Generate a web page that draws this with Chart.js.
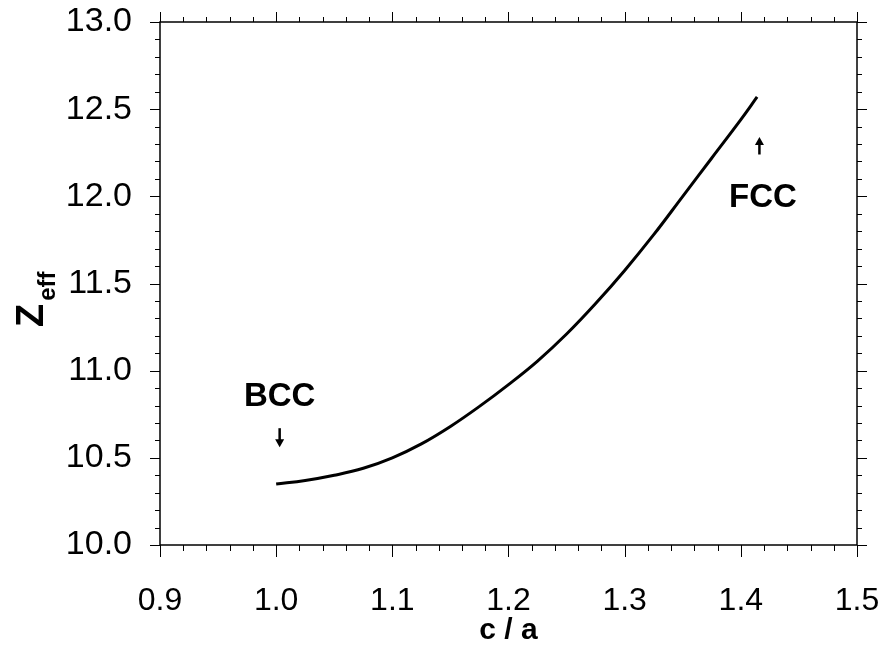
<!DOCTYPE html>
<html><head><meta charset="utf-8">
<script src="https://cdn.jsdelivr.net/npm/chart.js@4"></script>
<style>html,body{margin:0;padding:0;background:#fff}</style>
</head><body>
<canvas id="c" width="878" height="646"></canvas>
<script>
// ---- data ----
const cOverA = [1.0, 1.025, 1.05, 1.075, 1.1, 1.125, 1.15, 1.175, 1.2, 1.225, 1.25, 1.275, 1.3, 1.325, 1.35, 1.375, 1.4, 1.414];
const zEff   = [10.35, 10.37, 10.40, 10.44, 10.50, 10.58, 10.68, 10.795, 10.92, 11.055, 11.21, 11.385, 11.575, 11.78, 12.00, 12.22, 12.44, 12.57];
const xTickValues = [0.9, 1.0, 1.1, 1.2, 1.3, 1.4, 1.5];
const yTickValues = [10.0, 10.5, 11.0, 11.5, 12.0, 12.5, 13.0];
const xTitle = 'c / a';
const yTitleMain = 'Z';
const yTitleSub = 'eff';
const noteTexts = ['BCC', 'FCC'];
const noteX = [1.003, 1.419];
const noteY = [10.85, 11.99];
const arrowX = [1.003, 1.416];
const arrowTail = [10.67, 12.24];
const arrowHead = [10.56, 12.34];

const FONT = "'Liberation Sans', Arial, sans-serif";

const framePlugin = {
  id: 'frame',
  afterDraw(chart) {
    const ctx = chart.ctx, a = chart.chartArea;
    const xs = chart.scales.x, ys = chart.scales.y;
    ctx.save();
    ctx.strokeStyle = '#000';
    ctx.lineWidth = 1.5;
    ctx.strokeRect(a.left, a.top, a.right - a.left, a.bottom - a.top);
    ctx.lineWidth = 1;
    for (let i = 0; i <= 30; i++) {
      const v = xs.min + i * (xs.max - xs.min) / 30;
      const px = Math.round(xs.getPixelForValue(v)) + 0.5;
      const len = (i % 5 === 0) ? 12 : 6;
      ctx.beginPath();
      ctx.moveTo(px, a.bottom); ctx.lineTo(px, a.bottom + len);
      ctx.moveTo(px, a.top); ctx.lineTo(px, a.top - (i % 5 === 0 ? 10 : 5));
      ctx.stroke();
    }
    for (let i = 0; i <= 30; i++) {
      const v = ys.min + i * (ys.max - ys.min) / 30;
      const py = Math.round(ys.getPixelForValue(v)) + 0.5;
      const len = (i % 5 === 0) ? 10 : 5;
      ctx.beginPath();
      ctx.moveTo(a.left, py); ctx.lineTo(a.left - len, py);
      ctx.moveTo(a.right, py); ctx.lineTo(a.right + len, py);
      ctx.stroke();
    }
    ctx.fillStyle = '#000';
    ctx.font = 'bold 33px ' + FONT;
    ctx.textAlign = 'center';
    ctx.textBaseline = 'middle';
    noteTexts.forEach((t, i) => {
      ctx.fillText(t, xs.getPixelForValue(noteX[i]), ys.getPixelForValue(noteY[i]));
    });
    arrowX.forEach((x, i) => {
      const px = xs.getPixelForValue(x);
      const y0 = ys.getPixelForValue(arrowTail[i]);
      const y1 = ys.getPixelForValue(arrowHead[i]);
      const dir = Math.sign(y1 - y0);
      ctx.lineWidth = 2.5;
      ctx.beginPath(); ctx.moveTo(px, y0); ctx.lineTo(px, y1 - dir * 5); ctx.stroke();
      ctx.beginPath();
      ctx.moveTo(px, y1);
      ctx.lineTo(px - 4.5, y1 - dir * 8);
      ctx.lineTo(px + 4.5, y1 - dir * 8);
      ctx.closePath(); ctx.fill();
    });
    ctx.save();
    ctx.translate(43, 327);
    ctx.rotate(-Math.PI / 2);
    ctx.textAlign = 'left';
    ctx.textBaseline = 'alphabetic';
    ctx.font = 'bold 38px ' + FONT;
    ctx.fillText(yTitleMain, 0, 0);
    const w = ctx.measureText(yTitleMain).width;
    ctx.font = 'bold 24px ' + FONT;
    ctx.fillText(yTitleSub, w + 3, 12);
    ctx.restore();
    ctx.restore();
  }
};

new Chart(document.getElementById('c'), {
  type: 'scatter',
  data: {
    datasets: [{
      data: cOverA.map((x, i) => ({ x, y: zEff[i] })),
      showLine: true,
      borderColor: '#000',
      borderWidth: 3,
      pointRadius: 0,
      tension: 0.4,
      fill: false
    }]
  },
  options: {
    responsive: false,
    animation: false,
    devicePixelRatio: 1,
    layout: { padding: { top: 22, right: 21, left: 0, bottom: 0 } },
    plugins: { legend: { display: false }, tooltip: { enabled: false } },
    scales: {
      x: {
        type: 'linear', min: 0.9, max: 1.5,
        afterBuildTicks: s => { s.ticks = xTickValues.map(v => ({ value: v })); },
        afterFit: s => { s.height = 101; s.paddingLeft = 0; s.paddingRight = 0; },
        ticks: { callback: v => Number(v).toFixed(1), color: '#000', font: { family: FONT, size: 32 }, padding: 29, maxRotation: 0, autoSkip: false },
        grid: { display: false }, border: { display: false },
        title: { display: true, text: xTitle, color: '#000', font: { family: FONT, size: 30, weight: 'bold', lineHeight: 1 }, padding: 0 }
      },
      y: {
        type: 'linear', min: 10, max: 13,
        afterBuildTicks: s => { s.ticks = yTickValues.map(v => ({ value: v })); },
        afterFit: s => { s.width = 160; s.paddingTop = 0; s.paddingBottom = 0; },
        ticks: { callback: v => Number(v).toFixed(1), color: '#000', font: { family: FONT, size: 34 }, padding: 20, autoSkip: false },
        grid: { display: false }, border: { display: false }
      }
    }
  },
  plugins: [framePlugin]
});
</script>
</body></html>
